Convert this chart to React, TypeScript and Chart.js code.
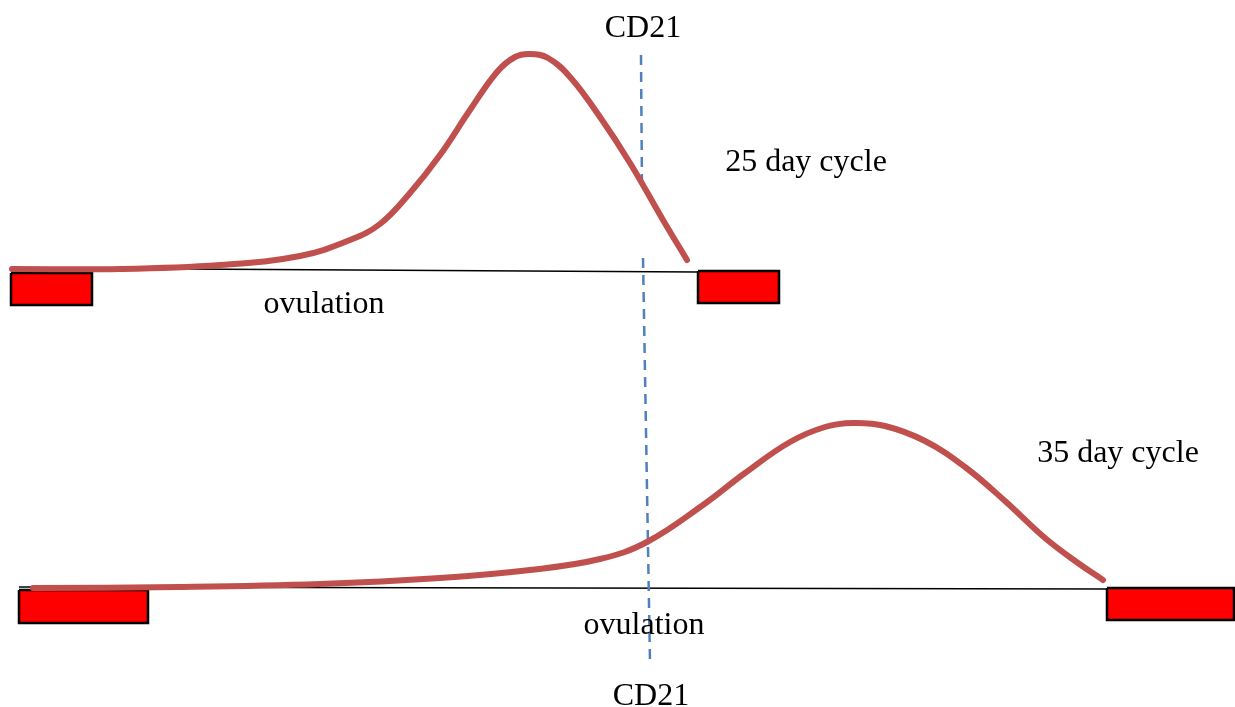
import React, { useEffect, useRef } from "react";
import { Chart, registerables } from "chart.js";

Chart.register(...registerables);

// Diagram coordinate space (x: 0..1235 left→right, y: 0..707 top→bottom)
const X_RANGE = [0, 1235];
const Y_RANGE = [0, 707];

// 25 day cycle curve
const cycle25X = [12, 120, 220, 300, 350, 380, 410, 440, 470, 497, 515, 530, 548, 570, 600, 630, 663, 687];
const cycle25Y = [269, 269, 265, 256, 240, 224, 193, 155, 110, 72, 57, 54, 58, 77, 117, 163, 220, 260];

// 35 day cycle curve
const cycle35X = [33, 180, 320, 440, 530, 600, 647, 703, 745, 790, 825, 853, 885, 925, 965, 1005, 1045, 1078, 1103];
const cycle35Y = [588, 587, 584, 578, 570, 559, 542, 505, 473, 442, 427, 423, 426, 441, 467, 501, 538, 563, 580];

// Baselines
const base25X = [10, 697];
const base25Y = [268, 272];
const base35X = [19, 1107];
const base35Y = [587, 589];

// Menstruation blocks [x0, x1, y0, y1]
const blocks = [
  [11, 92, 273, 305],
  [698, 779, 271, 303],
  [19, 148, 590, 623],
  [1107, 1234, 588, 620],
];

// CD21 marker line (two segments)
const cd21TopX = [641, 642];
const cd21TopY = [55, 190];
const cd21BottomX = [643, 650];
const cd21BottomY = [258, 662];

// Text labels
const labelTexts = ["CD21", "25 day cycle", "ovulation", "35 day cycle", "ovulation", "CD21"];
const labelX = [643, 806, 324, 1118, 644, 651];
const labelY = [37, 171, 313, 462, 634, 705];

const zip = (xs: number[], ys: number[]) => xs.map((x, i) => ({ x, y: ys[i] }));

const rectPoints = (b: number[]) => [
  { x: b[0], y: b[2] },
  { x: b[1], y: b[2] },
  { x: b[1], y: b[3] },
  { x: b[0], y: b[3] },
  { x: b[0], y: b[2] },
];

const CURVE = "#C0504D";
const DASH = "#4F81BD";

const labelPlugin = {
  id: "diagramLabels",
  afterDraw(chart: any) {
    const { ctx, scales } = chart;
    ctx.save();
    ctx.fillStyle = "#000";
    ctx.font = '32px "Liberation Serif", "Times New Roman", serif';
    ctx.textAlign = "center";
    ctx.textBaseline = "alphabetic";
    labelTexts.forEach((t, i) => {
      ctx.fillText(t, scales.x.getPixelForValue(labelX[i]), scales.y.getPixelForValue(labelY[i]));
    });
    ctx.restore();
  },
};

export default function App() {
  const ref = useRef<HTMLCanvasElement | null>(null);

  useEffect(() => {
    document.body.style.margin = "0";
    if (!ref.current) return;
    const lineBase = {
      pointRadius: 0,
      pointHoverRadius: 0,
      fill: false,
      tension: 0,
    };
    const curveBase = {
      ...lineBase,
      borderColor: CURVE,
      borderWidth: 6,
      tension: 0.4,
      borderCapStyle: "round",
      borderJoinStyle: "round",
      order: 1,
    };
    const datasets: any[] = [
      { ...curveBase, label: "25 day cycle", data: zip(cycle25X, cycle25Y) },
      { ...curveBase, label: "35 day cycle", data: zip(cycle35X, cycle35Y) },
      {
        ...lineBase,
        label: "CD21 top",
        data: zip(cd21TopX, cd21TopY),
        borderColor: DASH,
        borderWidth: 2.5,
        borderDash: [10, 7],
        order: 2,
      },
      {
        ...lineBase,
        label: "CD21 bottom",
        data: zip(cd21BottomX, cd21BottomY),
        borderColor: DASH,
        borderWidth: 2.5,
        borderDash: [10, 7],
        order: 2,
      },
      {
        ...lineBase,
        label: "base 25",
        data: zip(base25X, base25Y),
        borderColor: "#000",
        borderWidth: 1.5,
        order: 4,
      },
      {
        ...lineBase,
        label: "base 35",
        data: zip(base35X, base35Y),
        borderColor: "#000",
        borderWidth: 1.5,
        order: 4,
      },
      ...blocks.map((b, i) => ({
        ...lineBase,
        label: "block " + i,
        data: rectPoints(b),
        borderColor: "#000",
        borderWidth: 2.5,
        backgroundColor: "#FF0000",
        fill: "shape",
        borderJoinStyle: "miter",
        order: 3,
      })),
    ];

    const chart = new Chart(ref.current, {
      type: "line",
      data: { datasets },
      options: {
        animation: false,
        responsive: false,
        maintainAspectRatio: false,
        layout: { padding: 0 },
        plugins: {
          legend: { display: false },
          tooltip: { enabled: false },
          title: { display: false },
        },
        events: [],
        scales: {
          x: { type: "linear", min: X_RANGE[0], max: X_RANGE[1], display: false },
          y: { type: "linear", min: Y_RANGE[0], max: Y_RANGE[1], reverse: true, display: false },
        },
      },
      plugins: [labelPlugin],
    });
    return () => chart.destroy();
  }, []);

  return (
    <div style={{ width: 1235, height: 707, background: "#fff" }}>
      <canvas ref={ref} width={1235} height={707} style={{ display: "block" }} />
    </div>
  );
}
